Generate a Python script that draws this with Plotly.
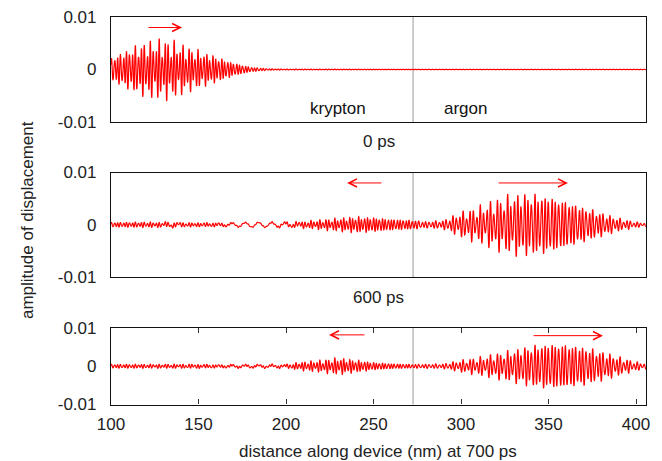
import numpy as np
import plotly.graph_objects as go

# ---- data: envelope of the displacement wave at three times (units of 1e-3) ----
X_MIN, X_MAX = 100.0, 405.7
INTERFACE_NM = 272.6          # krypton | argon boundary
WAVELEN_KR = 1.7              # carrier wavelength in krypton (nm)
WAVELEN_AR = 1.95             # carrier wavelength in argon (nm)
SLOW_WAVELEN = 7.6            # long-wavelength ripple in krypton (nm)

env_x_0ps = [100, 105, 110, 115, 120, 125, 130, 135, 140, 145, 150, 160, 170, 180, 190, 200, 272, 280, 405.7]
env_a_0ps = [2.2, 3.0, 3.8, 4.5, 5.0, 5.3, 5.4, 5.2, 4.6, 4.0, 3.5, 2.5, 1.3, 0.45, 0.15, 0.08, 0.05, 0.03, 0.03]
slow_x_0ps = [100, 405.7]
slow_a_0ps = [0.0, 0.0]

env_x_600ps = [100, 120, 140, 160, 170, 180, 190, 200, 210, 220, 230, 240, 250, 260, 272, 280, 290, 300, 310,
               320, 330, 340, 350, 360, 370, 380, 390, 400, 405.7]
env_a_600ps = [0.45, 0.5, 0.4, 0.35, 0.15, 0.1, 0.1, 0.3, 0.6, 0.9, 1.2, 1.5, 1.4, 1.1, 0.9, 0.6, 0.8, 2.3, 3.3,
               4.7, 5.8, 6.1, 5.8, 4.8, 3.5, 2.3, 1.2, 0.5, 0.3]
slow_x_600ps = [100, 125, 135, 145, 160, 170, 180, 190, 200, 210, 220, 405.7]
slow_a_600ps = [0.0, 0.0, 0.3, 0.0, 0.1, 0.35, 0.45, 0.45, 0.4, 0.1, 0.0, 0.0]

env_x_700ps = [100, 150, 160, 170, 180, 190, 200, 205, 210, 220, 230, 240, 250, 260, 272, 290, 300, 310, 320,
               330, 340, 350, 360, 370, 380, 390, 400, 405.7]
env_a_700ps = [0.5, 0.5, 0.4, 0.3, 0.3, 0.3, 0.4, 0.8, 1.1, 1.5, 2.1, 1.6, 1.0, 0.7, 0.5, 0.6, 1.5, 2.2, 3.2,
               4.2, 5.5, 6.3, 6.1, 5.3, 3.9, 2.4, 1.1, 0.7]
slow_x_700ps = [100, 160, 170, 180, 190, 200, 210, 405.7]
slow_a_700ps = [0.0, 0.1, 0.3, 0.3, 0.3, 0.2, 0.0, 0.0]

panel_labels = ["0 ps", "600 ps"]
y_tick_vals = [-0.01, 0, 0.01]
y_tick_text = ["-0.01", "0", "0.01"]
x_tick_vals = [100, 150, 200, 250, 300, 350, 400]

RED = "#ff0000"
FONT = "Liberation Sans"

# ---- build signals ----
step = 0.05
x = np.arange(X_MIN, X_MAX, step)
lam = np.where(x < INTERFACE_NM, WAVELEN_KR, WAVELEN_AR)
phase = np.cumsum(2 * np.pi / lam * step)
carrier = (0.72 * np.sin(phase) + 0.2 * np.sin(1.37 * phase + 0.5) + 0.15 * np.sin(0.61 * phase + 2.0)) / 0.95
slow = np.sin(2 * np.pi * x / SLOW_WAVELEN)


def signal(ex, ea, sx, sa):
    env = np.interp(x, ex, ea) * 1e-3
    senv = np.interp(x, sx, sa) * 1e-3
    return env * carrier + senv * slow


series = [
    signal(env_x_0ps, env_a_0ps, slow_x_0ps, slow_a_0ps),
    signal(env_x_600ps, env_a_600ps, slow_x_600ps, slow_a_600ps),
    signal(env_x_700ps, env_a_700ps, slow_x_700ps, slow_a_700ps),
]

# ---- figure ----
W, H = 662, 461
xd = [111 / W, 646 / W]
y_domains = [
    [1 - 122 / H, 1 - 17 / H],
    [1 - 277 / H, 1 - 172.5 / H],
    [1 - 404.5 / H, 1 - 328 / H],
]

fig = go.Figure()
for i, y in enumerate(series):
    ax = "" if i == 0 else str(i + 1)
    fig.add_trace(go.Scatter(x=x, y=y, mode="lines", xaxis="x" + ax, yaxis="y" + ax,
                             line=dict(color=RED, width=1.2, simplify=False),
                             showlegend=False, hoverinfo="skip"))

layout = dict(width=W, height=H, margin=dict(l=0, r=0, t=0, b=0, autoexpand=False),
              paper_bgcolor="white", plot_bgcolor="white",
              font=dict(family=FONT, size=17, color="#222"))

for i in range(3):
    sfx = "" if i == 0 else str(i + 1)
    bottom = i == 2
    layout["xaxis" + sfx] = dict(
        domain=xd, anchor="y" + sfx, range=[X_MIN, X_MAX], showgrid=False, zeroline=False,
        automargin=False,
        showline=True, linecolor="#111", linewidth=1.2, mirror="ticks" if bottom else True,
        ticks="inside" if bottom else "", ticklen=5, tickcolor="#333",
        tickvals=x_tick_vals, showticklabels=bottom, ticklabelstandoff=4,
    )
    layout["yaxis" + sfx] = dict(
        domain=y_domains[i], anchor="x" + sfx, range=[-0.01, 0.01], showgrid=False, zeroline=False,
        automargin=False,
        showline=True, linecolor="#111", linewidth=1.2, mirror=True, ticks="",
        tickvals=y_tick_vals, ticktext=y_tick_text, ticklabelstandoff=10,
    )
fig.update_layout(**layout)

# krypton / argon boundary
for i in range(3):
    sfx = "" if i == 0 else str(i + 1)
    fig.add_shape(type="line", xref="x" + sfx, yref="y" + sfx + " domain",
                  x0=INTERFACE_NM, x1=INTERFACE_NM, y0=0, y1=1,
                  line=dict(color="#9a9a9a", width=1), layer="below")

# direction-of-travel arrows: (panel, tail x, tip x, y)
arrows = [
    (0, 120.6, 140.6, 0.0080),
    (1, 255.4, 234.9, 0.0080),
    (1, 320.6, 361.1, 0.0080),
    (2, 245.7, 224.6, 0.0082),
    (2, 340.6, 381.1, 0.0080),
]
for p, x0, x1, yy in arrows:
    sfx = "" if p == 0 else str(p + 1)
    fig.add_annotation(x=x1, y=yy, ax=x0, ay=yy, xref="x" + sfx, yref="y" + sfx,
                       axref="x" + sfx, ayref="y" + sfx, text="", showarrow=True,
                       arrowhead=5, arrowsize=1.6, arrowwidth=1, arrowcolor=RED)


def label(text, px, py, color="#222", angle=0):
    fig.add_annotation(x=px / W, y=1 - py / H, xref="paper", yref="paper", text=text,
                       xanchor="center", yanchor="middle", textangle=angle, showarrow=False,
                       font=dict(size=17, color=color))


# material labels
label("krypton", 338, 108, color="#111")
label("argon", 465.5, 108, color="#111")

# time labels under the first two panels
for lbl, yp in zip(panel_labels, [141, 297]):
    label(lbl, 378.5, yp)

# axis titles
label("distance along device (nm) at 700 ps", 378, 451)
label("amplitude of displacement", 28, 220, angle=-90)

fig.write_html("out.html")
